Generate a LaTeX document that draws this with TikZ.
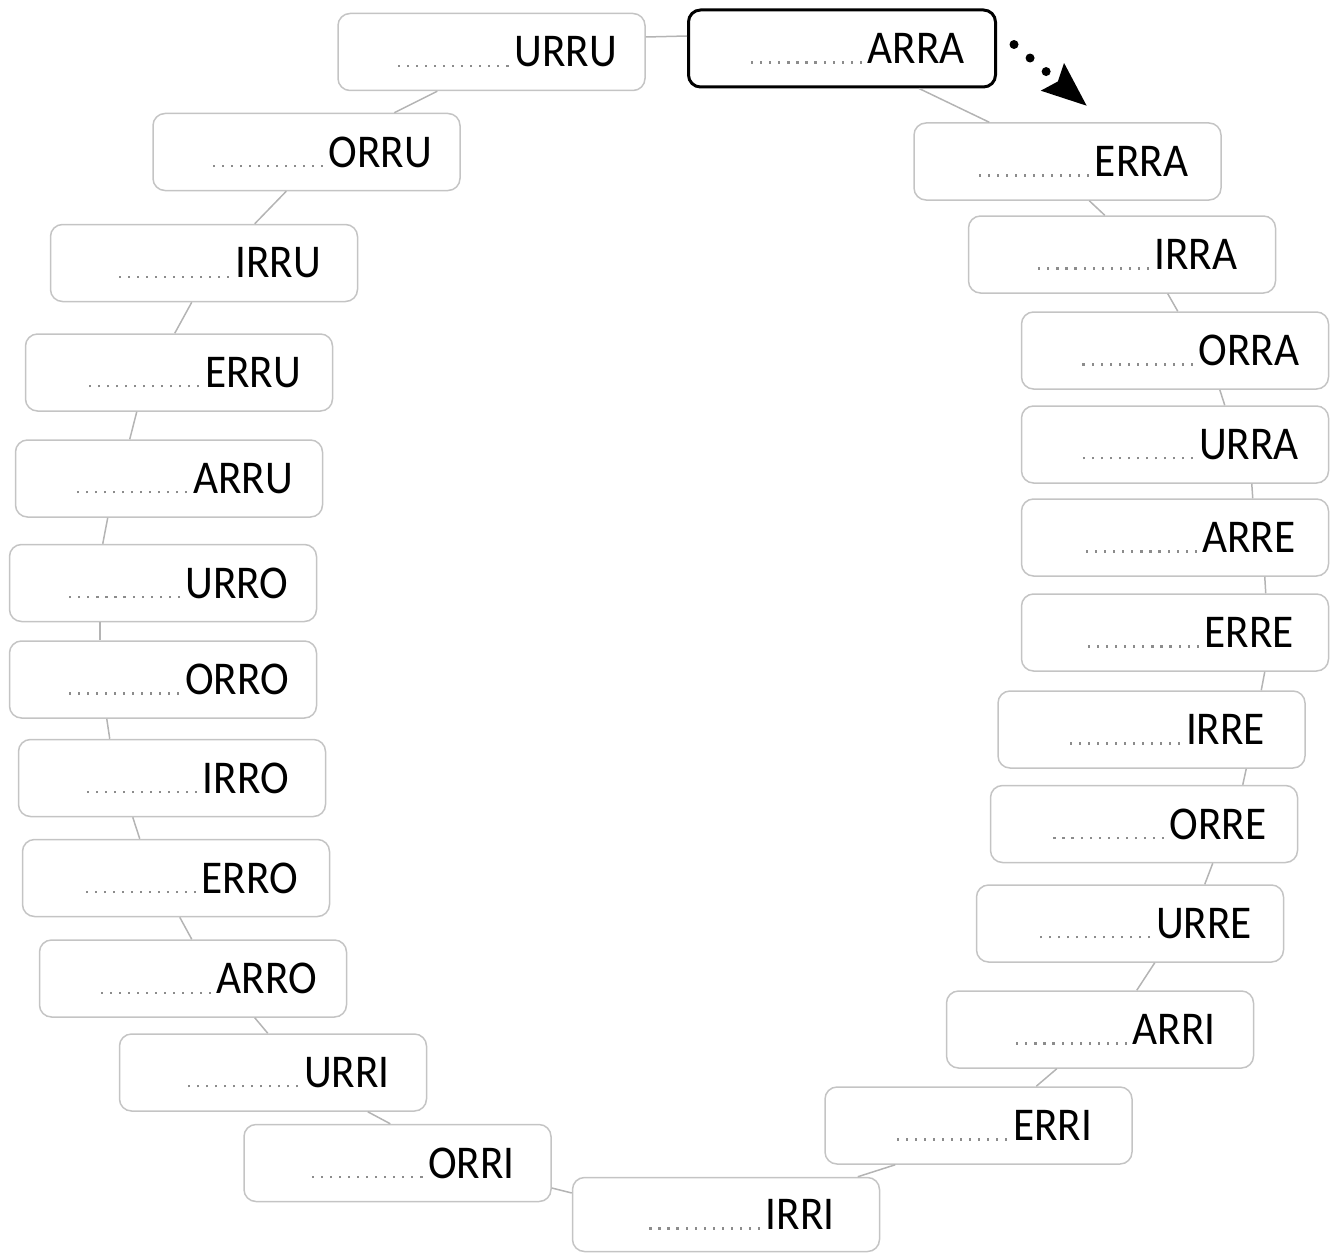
\documentclass[tikz,border=0pt]{standalone}
\usepackage{fontspec}
\setmainfont[FakeStretch=0.92]{Carlito}
\usetikzlibrary{arrows.meta}
\definecolor{boxgray}{HTML}{C4C4C4}
\definecolor{linegray}{HTML}{B4B4B4}
\definecolor{dotgray}{HTML}{8C8C8C}
\newcommand{\dotrow}{\hbox to 118pt{\xleaders\hbox to 8.43pt{\hss\textcolor{dotgray}{\rule{2.1pt}{2.1pt}}\hss}\hfill}}
\newcommand{\lbl}[1]{\hspace*{28pt}\dotrow\hspace{2pt}#1}
\newcommand{\conn}[4]{\draw[conn] ([xshift=#2pt]#1.south west) -- ([xshift=#4pt]#3.north west);}
\tikzset{
  box/.style={draw=boxgray, line width=1.5pt, rounded corners=12pt, minimum width=307pt,
    minimum height=77pt, inner sep=0pt, font=\fontsize{47}{47}\selectfont, text=black},
  startbox/.style={box, draw=black, line width=3pt},
  conn/.style={draw=linegray, line width=1.5pt},
  dotarrow/.style={line width=9pt, line cap=round, dash pattern=on 0pt off 21pt,
    -{Stealth[length=44pt,width=34pt,inset=6pt]}}
}
\begin{document}
\begin{tikzpicture}[x=1pt,y=-1pt]
\useasboundingbox (0,0) rectangle (1337,1252);
\node[box] (URRU) at (491.5,52) {\lbl{URRU}};
\node[startbox] (ARRA) at (842,48.5) {\lbl{ARRA}};
\node[box] (ERRA) at (1067.5,161.5) {\lbl{ERRA}};
\node[box] (IRRA) at (1122,254.5) {\lbl{IRRA}};
\node[box] (ORRA) at (1175,350.5) {\lbl{ORRA}};
\node[box] (URRA) at (1175,444.5) {\lbl{URRA}};
\node[box] (ARRE) at (1175,537.5) {\lbl{ARRE}};
\node[box] (ERRE) at (1175,632.5) {\lbl{ERRE}};
\node[box] (IRRE) at (1151.5,729.5) {\lbl{IRRE}};
\node[box] (ORRE) at (1144,824) {\lbl{ORRE}};
\node[box] (URRE) at (1130,923.5) {\lbl{URRE}};
\node[box] (ARRI) at (1100,1029.5) {\lbl{ARRI}};
\node[box] (ERRI) at (978.5,1125.5) {\lbl{ERRI}};
\node[box, minimum height=74pt] (IRRI) at (726,1214.5) {\lbl{IRRI}};
\node[box] (ORRI) at (397.5,1163) {\lbl{ORRI}};
\node[box] (URRI) at (273,1072.5) {\lbl{URRI}};
\node[box] (ARRO) at (193,978.5) {\lbl{ARRO}};
\node[box] (ERRO) at (176,878) {\lbl{ERRO}};
\node[box] (IRRO) at (172,778) {\lbl{IRRO}};
\node[box] (ORRO) at (163,679.5) {\lbl{ORRO}};
\node[box] (URRO) at (163,583) {\lbl{URRO}};
\node[box] (ARRU) at (169,478.5) {\lbl{ARRU}};
\node[box] (ERRU) at (179,372.5) {\lbl{ERRU}};
\node[box] (IRRU) at (204,263) {\lbl{IRRU}};
\node[box] (ORRU) at (306.5,152) {\lbl{ORRU}};
% connectors
\draw[conn] ([yshift=15pt]URRU.east) -- ([yshift=12.5pt]ARRA.west);
\conn{ARRA}{232}{ERRA}{76}
\conn{ERRA}{176}{IRRA}{137}
\conn{IRRA}{200}{ORRA}{157}
\conn{ORRA}{199}{URRA}{204}
\conn{URRA}{231}{ARRE}{232}
\conn{ARRE}{244}{ERRE}{245}
\conn{ERRE}{244}{IRRE}{264}
\conn{IRRE}{249}{ORRE}{253}
\conn{ORRE}{223}{URRE}{229}
\conn{URRE}{179}{ARRI}{191}
\conn{ARRI}{111}{ERRI}{212}
\conn{ERRI}{71}{IRRI}{286}
\draw[conn] ([yshift=21.5pt]IRRI.west) -- ([yshift=-25pt]ORRI.east);
\conn{URRI}{249}{ORRI}{147}
\conn{ARRO}{216}{URRI}{149}
\conn{ERRO}{158}{ARRO}{153}
\conn{IRRO}{115}{ERRO}{118}
\conn{ORRO}{98}{IRRO}{92}
\conn{URRO}{91}{ORRO}{91}
\conn{ARRU}{93}{URRO}{94}
\conn{ERRU}{112}{ARRU}{115}
\conn{IRRU}{142}{ERRU}{150}
\conn{ORRU}{134}{IRRU}{205}
\conn{URRU}{100}{ORRU}{242}
% start arrow
\coordinate (tip) at (1087,106);
\draw[dotarrow] ([shift={(17,-4)}]ARRA.east) -- (tip);
\end{tikzpicture}
\end{document}
